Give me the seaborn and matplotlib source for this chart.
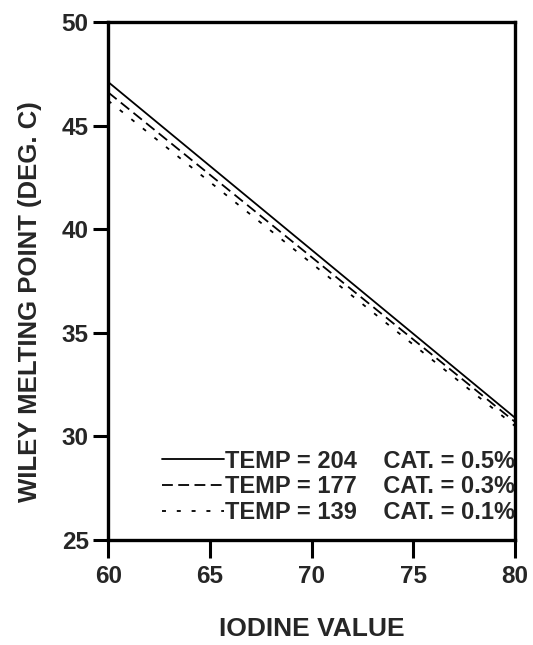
import pandas as pd
import seaborn as sns
import matplotlib
matplotlib.use('Agg')
import matplotlib.pyplot as plt

# values (line ends at iodine value 60 and 80)
iodine = [60, 80]
mp_204 = [47.1, 30.9]
mp_177 = [46.6, 30.7]
mp_139 = [46.2, 30.5]
labels = ['TEMP = 204    CAT. = 0.5%',
          'TEMP = 177    CAT. = 0.3%',
          'TEMP = 139    CAT. = 0.1%']

df = pd.DataFrame({
    'iodine': iodine * 3,
    'mp': mp_204 + mp_177 + mp_139,
    'series': [labels[0]] * 2 + [labels[1]] * 2 + [labels[2]] * 2,
})

sns.set_style('ticks')
plt.rcParams['font.family'] = ['Liberation Sans', 'DejaVu Sans']
plt.rcParams['font.weight'] = 'bold'

fig = plt.figure(figsize=(5.33, 6.45), dpi=100)
ax = fig.add_axes([0.203, 0.163, 0.763, 0.803])

sns.lineplot(data=df, x='iodine', y='mp', hue='series', style='series',
             palette=['black'] * 3, dashes=[(None, None), (6, 3), (2.2, 6)],
             linewidth=1.3, ax=ax, legend=False)

ax.set_xlim(60, 80)
ax.set_ylim(25, 50)
ax.set_xticks([60, 65, 70, 75, 80])
ax.set_yticks([25, 30, 35, 40, 45, 50])
ax.tick_params(axis='both', labelsize=17.5, width=2.2, color='black')
ax.tick_params(axis='x', length=13, pad=5)
ax.tick_params(axis='y', length=11, pad=3)
for s in ax.spines.values():
    s.set_linewidth(2.4)
    s.set_color('black')

ax.set_xlabel('IODINE VALUE', fontsize=19, fontweight='bold', labelpad=21)
ax.set_ylabel('WILEY MELTING POINT (DEG. C)', fontsize=18.5, fontweight='bold')
ax.yaxis.set_label_coords(-0.163, 0.46)

# legend rebuilt from the plotted lines
handles = ax.get_lines()[:3]
ax.legend(handles, labels, loc='lower right', bbox_to_anchor=(1.0, 0.03),
          frameon=False, fontsize=17, handlelength=2.6, handletextpad=0.05,
          labelspacing=0.12, borderaxespad=0, borderpad=0)

fig.savefig('out.png', dpi=100)
